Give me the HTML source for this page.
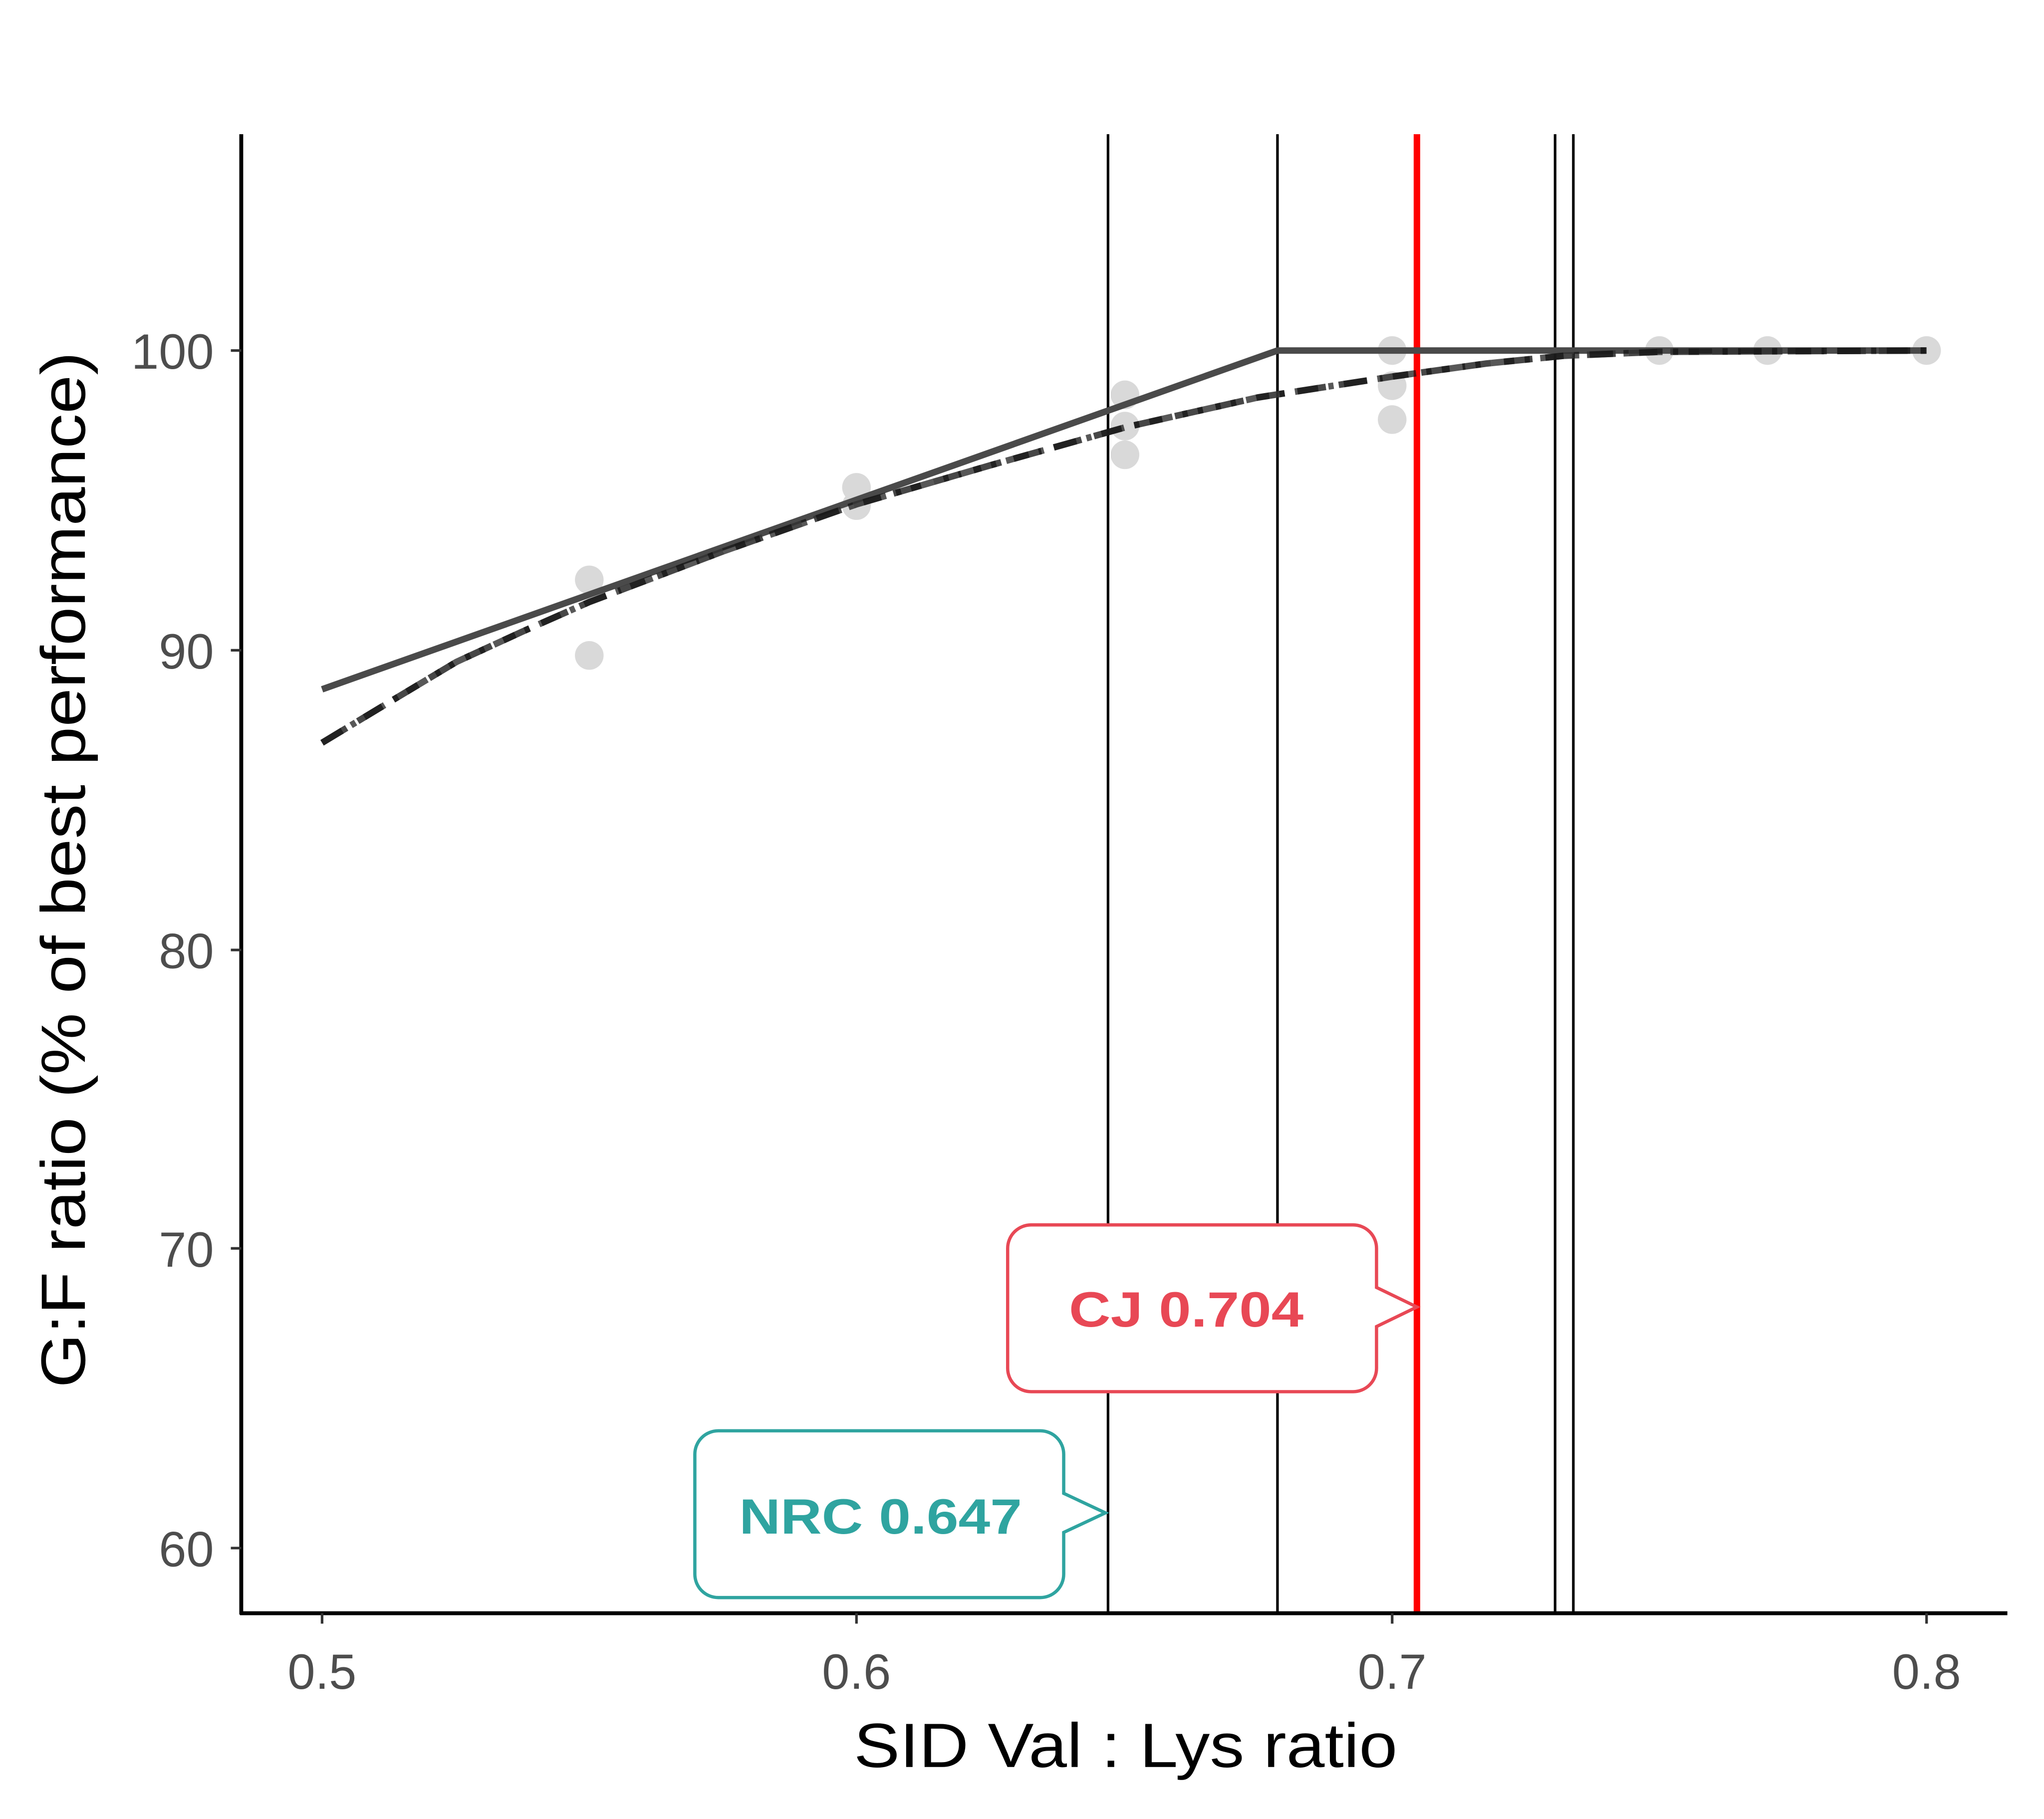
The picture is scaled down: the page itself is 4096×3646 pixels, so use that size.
<!DOCTYPE html>
<html><head><style>html,body{margin:0;padding:0;background:#fff}</style></head>
<body>
<svg width="4096" height="3641" viewBox="0 0 1568 1394" xmlns="http://www.w3.org/2000/svg" font-family="Liberation Sans, sans-serif">
<rect width="1568" height="1394" fill="#fff"/>
<g stroke="#000" stroke-width="2">
<line x1="850" y1="103" x2="850" y2="1238"/>
<line x1="980" y1="103" x2="980" y2="1238"/>
<line x1="1193" y1="103" x2="1193" y2="1238"/>
<line x1="1207" y1="103" x2="1207" y2="1238"/>
</g>
<line x1="1087" y1="103" x2="1087" y2="1238" stroke="#ff0000" stroke-width="5"/>
<g fill="#d9d9d9">
<circle cx="452" cy="445" r="11"/><circle cx="452" cy="503" r="11"/>
<circle cx="657" cy="374" r="11"/><circle cx="657" cy="388" r="11"/>
<circle cx="863" cy="303" r="11"/><circle cx="863" cy="327" r="11"/><circle cx="863" cy="349" r="11"/>
<circle cx="1068" cy="269" r="11"/><circle cx="1068" cy="296" r="11"/><circle cx="1068" cy="322" r="11"/>
<circle cx="1273" cy="269" r="11"/><circle cx="1356" cy="269" r="11"/><circle cx="1478" cy="269" r="11"/>
</g>
<polyline points="247,529 980,269 1478,269" fill="none" stroke="#4a4a4a" stroke-width="5"/>
<polyline points="247,570 300,538 350,508 400,485 452,462 555,423 657,387 760,357 863,328 965,305 1068,289 1140,279 1200,273 1273,270 1478,269" fill="none" stroke="#333" stroke-opacity="0.9" stroke-width="5" stroke-dasharray="22,10"/>
<polyline points="247,570 300,538 350,508 400,485 452,462 555,423 657,387 760,357 863,328 965,305 1068,289 1140,279 1200,273 1273,270 1478,269" fill="none" stroke="#111" stroke-opacity="0.7" stroke-width="5" stroke-dasharray="18,8,4,8"/>
<path d="M791,940 H1038 A18,18 0 0 1 1056,958 V988 L1087,1003 L1056,1018 V1050 A18,18 0 0 1 1038,1068 H791 A18,18 0 0 1 773,1050 V958 A18,18 0 0 1 791,940 Z" fill="#fff" stroke="#e84855" stroke-width="2.5"/>
<text x="820" y="1018" font-size="38" font-weight="bold" fill="#e84855" textLength="180" lengthAdjust="spacingAndGlyphs">CJ 0.704</text>
<path d="M551,1098 H798 A18,18 0 0 1 816,1116 V1146 L848,1161 L816,1176 V1208 A18,18 0 0 1 798,1226 H551 A18,18 0 0 1 533,1208 V1116 A18,18 0 0 1 551,1098 Z" fill="#fff" stroke="#2fa4a0" stroke-width="2.5"/>
<text x="567" y="1177" font-size="38" font-weight="bold" fill="#2fa4a0" textLength="217" lengthAdjust="spacingAndGlyphs">NRC 0.647</text>
<line x1="185" y1="103" x2="185" y2="1239" stroke="#000" stroke-width="3"/>
<line x1="184" y1="1238" x2="1540" y2="1238" stroke="#000" stroke-width="3"/>
<g stroke="#333" stroke-width="2">
<line x1="177" y1="269" x2="185" y2="269"/><line x1="177" y1="499" x2="185" y2="499"/>
<line x1="177" y1="729" x2="185" y2="729"/><line x1="177" y1="958" x2="185" y2="958"/>
<line x1="177" y1="1188" x2="185" y2="1188"/>
<line x1="247" y1="1238" x2="247" y2="1246"/><line x1="657" y1="1238" x2="657" y2="1246"/>
<line x1="1068" y1="1238" x2="1068" y2="1246"/><line x1="1478" y1="1238" x2="1478" y2="1246"/>
</g>
<g font-size="38" fill="#4d4d4d" text-anchor="end">
<text x="164" y="283">100</text><text x="164" y="513">90</text><text x="164" y="743">80</text>
<text x="164" y="972">70</text><text x="164" y="1202">60</text>
</g>
<g font-size="38" fill="#4d4d4d" text-anchor="middle">
<text x="247" y="1296">0.5</text><text x="657" y="1296">0.6</text>
<text x="1068" y="1296">0.7</text><text x="1478" y="1296">0.8</text>
</g>
<text x="655" y="1356" font-size="48" fill="#000" textLength="417" lengthAdjust="spacingAndGlyphs">SID Val : Lys ratio</text>
<text transform="translate(65,1065) rotate(-90)" font-size="48" fill="#000" textLength="795" lengthAdjust="spacingAndGlyphs">G:F ratio (% of best performance)</text>
</svg>
</body></html>
